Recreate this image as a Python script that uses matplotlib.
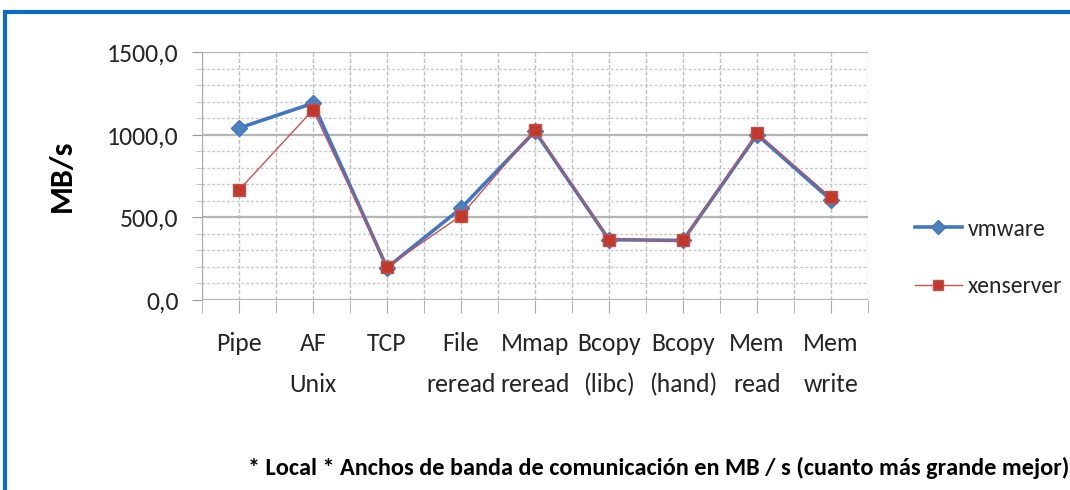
import numpy as np
import matplotlib.pyplot as plt
from matplotlib.patches import Rectangle
from matplotlib.ticker import MultipleLocator, FuncFormatter

plt.rcParams['font.family'] = ['Carlito', 'DejaVu Sans']

categories = ['Pipe', 'AF\nUnix', 'TCP', 'File\nreread', 'Mmap\nreread',
              'Bcopy\n(libc)', 'Bcopy\n(hand)', 'Mem\nread', 'Mem\nwrite']
vmware = [1040, 1190, 195, 555, 1020, 365, 360, 1000, 605]
xenserver = [665, 1150, 200, 510, 1030, 365, 360, 1010, 620]

fig = plt.figure(figsize=(10.7, 4.9), dpi=100)
ax = fig.add_axes([0.1888, 0.3878, 0.6224, 0.5061])

x = np.arange(len(categories))
ax.plot(x, vmware, color='#3F76C6', lw=2.6, marker='D', ms=8,
        mfc='#4F81BD', mec='#3F76C6', label='vmware', zorder=3)
ax.plot(x, xenserver, color='#D0504D', lw=1.0, marker='s', ms=8,
        mfc='#C0392B', mec='#C0504D', label='xenserver', zorder=4)

ax.set_xlim(-0.5, len(categories) - 0.5)
ax.set_ylim(0, 1500)
ax.set_xticks(x)
ax.set_xticklabels(categories, fontsize=18.5, color='#262626', linespacing=1.95)
ax.set_xticks(np.arange(-0.5, len(categories), 1.0), minor=True)
ax.yaxis.set_major_locator(MultipleLocator(500))
ax.yaxis.set_minor_locator(MultipleLocator(100))
ax.yaxis.set_major_formatter(FuncFormatter(lambda v, p: f'{v:.1f}'.replace('.', ',')))
ax.tick_params(axis='y', labelsize=18.5, labelcolor='#262626', colors='#999999', length=7, pad=10)
ax.tick_params(axis='y', which='minor', length=4, colors='#bbbbbb')
ax.tick_params(axis='x', which='both', length=9, colors='#aaaaaa', labelcolor='#262626', pad=14)

ax.grid(which='major', axis='y', color='#b5b5b5', lw=1.6, ls='-')
ax.grid(which='minor', axis='y', color='#c8c8c8', lw=1.0, ls=(0, (2, 1.5)))
ax.grid(which='both', axis='x', color='#c0c0c0', lw=1.0, ls=(0, (3, 1.5)))
ax.set_axisbelow(True)
for s in ['top', 'right', 'bottom']:
    ax.spines[s].set_visible(False)
ax.spines['left'].set_color('#aaaaaa')
ax.spines['left'].set_linestyle((0, (2, 1)))

ax.set_ylabel('MB/s', fontsize=23, fontweight='bold')
ax.yaxis.set_label_coords(-0.19, 0.5)

fig.legend(loc='center left', bbox_to_anchor=(903 / 1070, 1 - 258 / 490), frameon=False,
           borderpad=0, fontsize=17, labelspacing=1.55, handlelength=2.0, handletextpad=0.25,
           labelcolor='#262626', markerscale=0.9)

fig.text(248 / 1070, 1 - 475 / 490,
         '* Local * Anchos de banda de comunicación en MB / s (cuanto más grande mejor)',
         fontsize=17.5, fontweight='bold', color='black', va='baseline')

fig.patches.append(Rectangle((5 / 1070, -0.1), 1.2, 1 - 12 / 490 + 0.1,
                             transform=fig.transFigure, fill=False,
                             ec='#0A6CC4', lw=3))

fig.savefig('out.png', dpi=100)
